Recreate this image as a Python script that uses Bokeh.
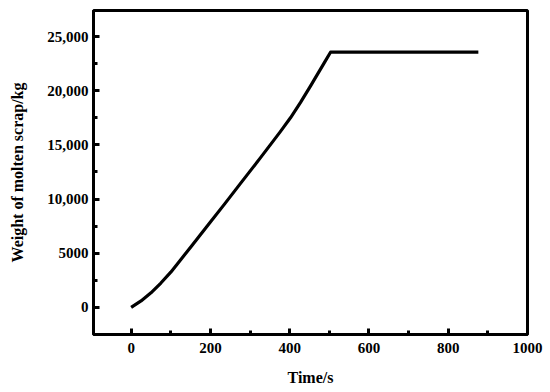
from bokeh.plotting import figure
from bokeh.models import FixedTicker, Range1d
from bokeh.embed import file_html
from bokeh.resources import INLINE

time_s = [0, 25, 50, 75, 100, 125, 153, 195, 237, 275, 326, 376, 402, 427, 452, 486, 503, 876]
weight_kg = [0, 600, 1350, 2250, 3250, 4400, 5700, 7650, 9600, 11400, 13800, 16200, 17500, 18900, 20400, 22500, 23550, 23550]

x_ticks = [0, 200, 400, 600, 800, 1000]
x_minor = [100, 300, 500, 700, 900]
y_ticks = [0, 5000, 10000, 15000, 20000, 25000]
y_minor = [2500, 7500, 12500, 17500, 22500]
y_labels = {0: "0", 5000: "5000", 10000: "10,000", 15000: "15,000", 20000: "20,000", 25000: "25,000"}

p = figure(width=545, height=390, output_backend="svg", toolbar_location=None,
           x_range=Range1d(-95, 1000), y_range=Range1d(-2500, 27400),
           min_border_left=93, min_border_top=10, min_border_right=18, min_border_bottom=56)

p.line(time_s, weight_kg, line_color="black", line_width=3.2, line_join="round")

p.grid.visible = False
p.outline_line_color = "black"
p.outline_line_width = 3
p.outline_line_alpha = 1

font = "Liberation Serif"
for ax in (p.xaxis[0], p.yaxis[0]):
    ax.axis_line_width = 3
    ax.major_tick_in = 6
    ax.major_tick_out = 0
    ax.minor_tick_in = 4
    ax.minor_tick_out = 0
    ax.major_tick_line_width = 3
    ax.minor_tick_line_width = 3
    ax.major_label_text_font = font
    ax.major_label_text_font_style = "bold"
    ax.major_label_text_font_size = "15px"
    ax.major_label_text_color = "black"
    ax.axis_label_text_font = font
    ax.axis_label_text_font_style = "bold"
    ax.axis_label_text_font_size = "16px"
    ax.axis_label_text_color = "black"

p.xaxis[0].ticker = FixedTicker(ticks=x_ticks, minor_ticks=x_minor)
p.yaxis[0].ticker = FixedTicker(ticks=y_ticks, minor_ticks=y_minor)
p.yaxis[0].major_label_overrides = y_labels
p.xaxis[0].major_label_standoff = 8
p.yaxis[0].major_label_standoff = 5
p.xaxis[0].axis_label = "Time/s"
p.yaxis[0].axis_label = "Weight of molten scrap/kg"
p.xaxis[0].axis_label_standoff = 13
p.yaxis[0].axis_label_standoff = 18

open("out.html", "w").write(file_html(p, INLINE))
